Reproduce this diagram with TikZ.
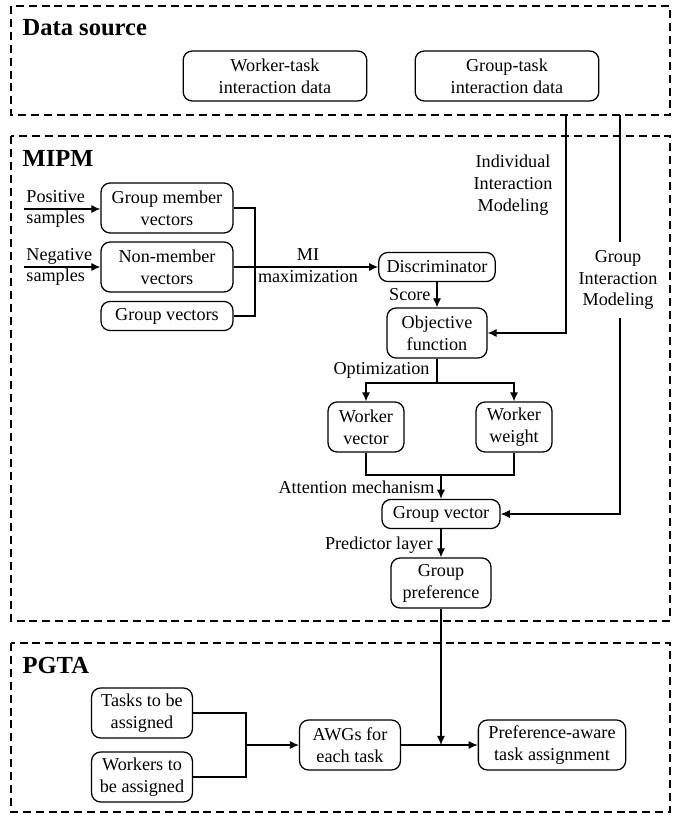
\documentclass[tikz,border=0pt]{standalone}
\usepackage{fontspec}
\setmainfont{Liberation Serif}
\newfontfamily\tnr{Liberation Serif}
\usetikzlibrary{positioning,arrows.meta}

\begin{document}
\begin{tikzpicture}[x=0.55pt, y=-0.55pt, line width=0.7pt,
          b/.style={draw, rounded corners=5pt, align=center, inner sep=2pt,
            font=\tnr\fontsize{10}{12}\selectfont, minimum height=27.5pt},
          bs/.style={b, minimum height=16pt},
          lb/.style={align=center, inner sep=1pt, font=\tnr\fontsize{10}{12}\selectfont},
          fr/.style={draw, dash pattern=on 4.4pt off 2.7pt, line width=0.6pt},
          ttl/.style={anchor=west, inner sep=0pt, font=\tnr\fontsize{13.5}{16}\selectfont\bfseries},
          ar/.style={-{Latex[length=5pt,width=4.5pt]}}]
        \useasboundingbox (0,0) rectangle (683,815);
        % frames
        \draw[fr] (11,6) rectangle (670,115);
        \draw[fr] (11,136) rectangle (670,621);
        \draw[fr] (11,643) rectangle (670,812);
        \node[ttl] (tds) at (22,28) {Data source};
        \node[ttl] (tmi) at (22,158) {MIPM};
        \node[ttl] (tpg) at (22,665) {PGTA};
        % data source
        \node[b, minimum width=101pt] (wtd) at (275,76) {Worker-task\\interaction data};
        \node[b, minimum width=101pt] (gtd) at (507,76) {Group-task\\interaction data};
        \coordinate (ind) at (566,115);
        \coordinate (grp) at (620,115);
        % MIPM
        \node[b, minimum width=72.6pt] (gm) at (167,208) {Group member\\vectors};
        \node[b, minimum width=72.6pt] (nm) at (167,267) {Non-member\\vectors};
        \node[bs, minimum width=72.6pt] (gv) at (167,316) {Group vectors};
        \node[lb, anchor=west, align=left] (pos) at (24,209) {Positive\\samples};
        \node[lb, anchor=west, align=left] (neg) at (24,267) {Negative\\samples};
        \node[bs, minimum width=64pt] (disc) at (437,267) {Discriminator};
        \node[b, minimum width=55pt] (obj) at (437,333) {Objective\\function};
        \node[b, minimum width=41.8pt] (wv) at (366,427) {Worker\\vector};
        \node[b, minimum width=41.8pt] (ww) at (514,427) {Worker\\weight};
        \node[bs, minimum width=65pt] (gvec) at (441,514) {Group vector};
        \node[b, minimum width=55pt] (gpref) at (441,583) {Group\\preference};
        \node[lb] (indl) at (513,185) {Individual\\Interaction\\Modeling};
        \node[lb, inner sep=4pt] (grpl) at (618,280) {Group\\Interaction\\Modeling};
        \node[lb] (mi) at (308,266) {MI\\maximization};
        \node[lb, anchor=east] (score) at (433,295) {Score};
        \node[lb, anchor=east] (opt) at (432,370) {Optimization};
        \node[lb, anchor=east] (att) at (437,487) {Attention mechanism};
        \node[lb, anchor=east] (pred) at (435,545) {Predictor layer};
        \coordinate (brk) at (255,267);
        \coordinate (split) at (437,383);
        \coordinate (join) at (441,475);
        \draw[ar] (pos.west) -- (pos.west -| gm.west);
        \draw[ar] (neg.west) -- (neg.west -| nm.west);
        \draw (gm.east) -| (brk);
        \draw (gv.east) -| (brk);
        \draw[ar] (nm.east) -- (disc.west);
        \draw[ar] (disc) -- (obj);
        \draw[ar] (ind) |- (obj.east);
        \draw (grp) -- (grp |- grpl.north);
        \draw[ar] (grp |- grpl.south) |- (gvec.east);
        \draw (obj.south) -- (split);
        \draw[ar] (split) -| (wv.north);
        \draw[ar] (split) -| (ww.north);
        \draw (wv.south) |- (join);
        \draw (ww.south) |- (join);
        \draw[ar] (join) -- (gvec.north);
        \draw[ar] (gvec) -- (gpref);
        % PGTA
        \node[b, minimum width=55.5pt] (task) at (142,713) {Tasks to be\\assigned};
        \node[b, minimum width=55.5pt] (work) at (142,777) {Workers to\\be assigned};
        \node[b, minimum width=55.5pt] (awg) at (350,745) {AWGs for\\each task};
        \node[b, minimum width=81pt] (pa) at (552,745) {Preference-aware\\task assignment};
        \coordinate (tjoin) at (246,745);
        \draw (task.east) -| (tjoin);
        \draw (work.east) -| (tjoin);
        \draw[ar] (tjoin) -- (awg.west);
        \draw[ar] (awg) -- (pa);
        \draw[ar] (gpref) -- (gpref |- pa.west);
      \end{tikzpicture}
\end{document}
